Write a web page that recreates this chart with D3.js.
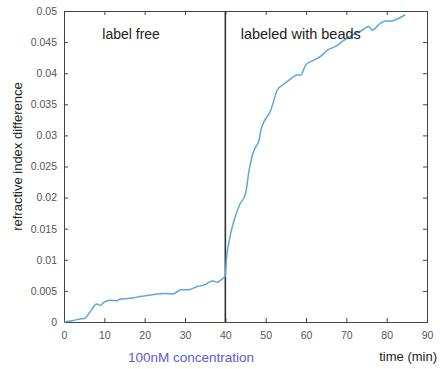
<!DOCTYPE html>
<html>
<head>
<meta charset="utf-8">
<script src="https://d3js.org/d3.v7.min.js"></script>
<style>
  body { margin: 0; background: #fff; }
  text { font-family: "Liberation Sans", Arial, sans-serif; }
</style>
</head>
<body>
<div id="chart"></div>
<script>
// data
var timeMin = [0, 2, 4, 5.2, 6.5, 8.1, 9, 10, 11.4, 13, 14, 16.3, 18, 20, 22, 25, 27, 29, 31, 33, 35, 36, 37, 38, 39, 40, 40.2,
  41, 42.2, 43.5, 45, 45.9, 46.7, 47.4, 48.4, 48.8, 51.3, 52.9, 54.2, 55.8, 57.9, 58.7, 59.9, 62, 63.6, 65.3, 67.3,
  69, 71.4, 73.9, 75.6, 76.4, 78.4, 79.7, 81.3, 82.9, 84.6];
var riDiff = [0, 0.0002, 0.0005, 0.0006, 0.0017, 0.0029, 0.0027, 0.0032, 0.0035, 0.0034, 0.0037, 0.0038, 0.004, 0.0042, 0.0044, 0.0046, 0.0045, 0.0052, 0.0052, 0.0057, 0.006, 0.0064, 0.0066, 0.0064, 0.0068, 0.0074, 0.0095,
  0.0132, 0.0164, 0.0188, 0.0206, 0.0244, 0.0268, 0.028, 0.0293, 0.0308, 0.0341, 0.0373, 0.0381, 0.0389, 0.0397, 0.0397, 0.0413, 0.0421, 0.0427, 0.0437, 0.0443,
  0.0451, 0.0461, 0.0469, 0.0475, 0.0469, 0.048, 0.0484, 0.0484, 0.0488, 0.0494];
var xTicks = [0, 10, 20, 30, 40, 50, 60, 70, 80, 90];
var yTicks = [0, 0.005, 0.01, 0.015, 0.02, 0.025, 0.03, 0.035, 0.04, 0.045, 0.05];
var switchTime = 40;

var margin = {top: 11, right: 13, bottom: 47, left: 64},
    width = 440 - margin.left - margin.right,
    height = 369 - margin.top - margin.bottom;

var svg = d3.select("#chart")
  .append("svg")
    .attr("width", 440)
    .attr("height", 369);

var chartGroup = svg.append("g")
  .attr("transform", `translate(${margin.left}, ${margin.top})`);

var x = d3.scaleLinear().domain([0, 90]).range([0, width]);
var y = d3.scaleLinear().domain([0, 0.05]).range([height, 0]);

var fmt = d => d === 0 ? "0" : String(+d.toFixed(3));

// axes, MATLAB-like box with inward ticks
chartGroup.append("g")
  .attr("class", "axis")
  .attr("transform", `translate(0, ${height})`)
  .call(d3.axisBottom(x).tickValues(xTicks).tickSize(-4).tickPadding(10).tickFormat(d3.format("d")));
chartGroup.append("g")
  .attr("class", "axis")
  .call(d3.axisTop(x).tickValues(xTicks).tickSize(-4).tickFormat(""));
chartGroup.append("g")
  .attr("class", "axis")
  .call(d3.axisLeft(y).tickValues(yTicks).tickSize(-4).tickPadding(7).tickFormat(fmt));
chartGroup.append("g")
  .attr("class", "axis")
  .attr("transform", `translate(${width}, 0)`)
  .call(d3.axisRight(y).tickValues(yTicks).tickSize(-4).tickFormat(""));

chartGroup.selectAll(".axis path, .axis line").attr("stroke", "#444").attr("stroke-width", 1);
chartGroup.selectAll(".axis text").attr("fill", "#555").attr("font-size", 10.5);

// divider at switch time
chartGroup.append("line")
  .attr("x1", x(switchTime)).attr("x2", x(switchTime))
  .attr("y1", 0).attr("y2", height)
  .attr("stroke", "#333")
  .attr("stroke-width", 1.6);

var pts = timeMin.map((t, i) => [t, riDiff[i]]);
chartGroup.append("path")
  .datum(pts)
  .attr("fill", "none")
  .attr("stroke", "#5aa8dd")
  .attr("stroke-width", 1.5)
  .attr("d", d3.line().x(d => x(d[0])).y(d => y(d[1])).curve(d3.curveMonotoneX));

// annotations
chartGroup.append("text")
  .attr("x", x(9.5)).attr("y", y(0.0455))
  .attr("font-size", 14).attr("fill", "#222")
  .text("label free");
chartGroup.append("text")
  .attr("x", x(43.8)).attr("y", y(0.0455))
  .attr("font-size", 14.5).attr("fill", "#222")
  .text("labeled with beads");

// axis labels
svg.append("text")
  .attr("transform", `translate(22, ${margin.top + height / 2 - 10}) rotate(-90)`)
  .attr("text-anchor", "middle")
  .attr("font-size", 13).attr("fill", "#222")
  .text("refractive index difference");
svg.append("text")
  .attr("x", 437).attr("y", 361)
  .attr("text-anchor", "end")
  .attr("font-size", 13).attr("fill", "#222")
  .text("time (min)");
svg.append("text")
  .attr("x", 128).attr("y", 362)
  .attr("font-size", 13.5).attr("fill", "#5b5bd8")
  .text("100nM concentration");
</script>
</body>
</html>
